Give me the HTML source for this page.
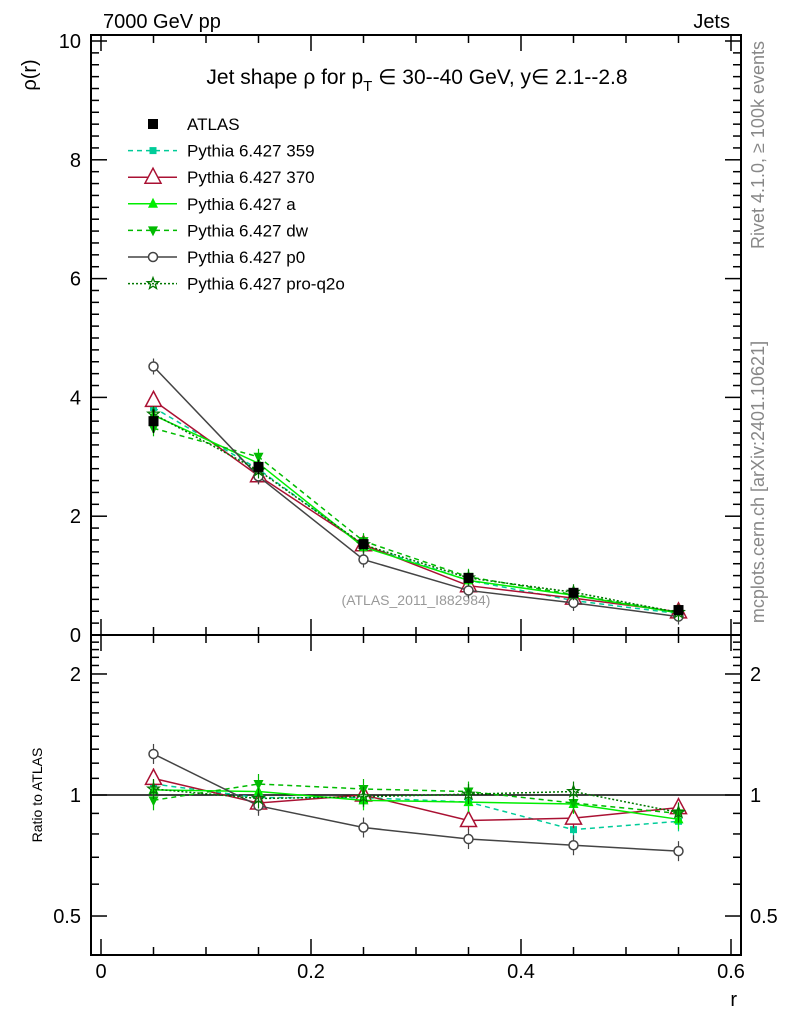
<!DOCTYPE html>
<html><head><meta charset="utf-8"><style>
body{margin:0;background:#fff;}
svg text{font-family:"Liberation Sans",sans-serif;}
</style></head><body>
<svg id="c" width="786" height="1024" xmlns="http://www.w3.org/2000/svg">
<text x="103" y="28" font-size="20">7000 GeV pp</text>
<text x="730" y="28" font-size="20" text-anchor="end">Jets</text>
<text x="0" y="0" font-size="20" transform="translate(36,75) rotate(-90)" text-anchor="middle">ρ(r)</text>
<text x="0" y="0" font-size="14" transform="translate(42,795) rotate(-90)" text-anchor="middle">Ratio to ATLAS</text>
<text x="737" y="1006" font-size="20" text-anchor="end">r</text>
<text x="0" y="0" font-size="18" fill="#888" transform="translate(764,145) rotate(-90)" text-anchor="middle">Rivet 4.1.0, ≥ 100k events</text>
<text x="0" y="0" font-size="18" fill="#888" transform="translate(764,482) rotate(-90)" text-anchor="middle">mcplots.cern.ch [arXiv:2401.10621]</text>
<text x="417" y="84" font-size="21" text-anchor="middle">Jet shape ρ for p<tspan font-size="15" dy="7">T</tspan><tspan dy="-7"> ∈ 30--40 GeV, y∈ 2.1--2.8</tspan></text>
<text x="416" y="605" font-size="14" fill="#999" text-anchor="middle">(ATLAS_2011_I882984)</text>
<g id="g"></g>
</svg>
<script>
const rVals=[0.05,0.15,0.25,0.35,0.45,0.55];
const atlas=[3.6,2.83,1.53,0.96,0.71,0.42];
const atlasErr=[0.2,0.12,0.06,0.04,0.03,0.02];
const s359=[3.83,2.79,1.51,0.92,0.58,0.36];
const s370=[3.95,2.68,1.52,0.83,0.62,0.39];
const sA=[3.70,2.89,1.48,0.92,0.67,0.37];
const sDw=[3.48,3.0,1.58,0.98,0.68,0.38];
const sP0=[4.52,2.67,1.27,0.75,0.54,0.31];
const sQ2o=[3.72,2.77,1.52,0.96,0.72,0.38];
const r359=[1.065,0.985,0.985,0.96,0.82,0.86];
const r370=[1.10,0.955,1.0,0.864,0.876,0.93];
const rA=[1.03,1.02,0.97,0.96,0.95,0.87];
const rDw=[0.97,1.065,1.035,1.02,0.955,0.9];
const rP0=[1.265,0.94,0.83,0.777,0.75,0.725];
const rQ2o=[1.035,0.98,0.99,1.005,1.02,0.905];
const xTicks=[0,0.2,0.4,0.6];
const yTicks=[0,2,4,6,8,10];
const ratioTicks=[0.5,1,2];
const legendNames=["ATLAS","Pythia 6.427 359","Pythia 6.427 370","Pythia 6.427 a","Pythia 6.427 dw","Pythia 6.427 p0","Pythia 6.427 pro-q2o"];

const NS="http://www.w3.org/2000/svg",G=document.getElementById('g');
const X=v=>101+v*1050, Y=v=>635-v*59.4, R=v=>795-Math.log10(v)*402;
function el(t,a,p){const e=document.createElementNS(NS,t);for(const k in a)e.setAttribute(k,a[k]);(p||G).appendChild(e);return e;}
let f=el('rect',{x:91,y:35,width:650,height:600,fill:'none',stroke:'#000','stroke-width':2});


f=el('rect',{x:91,y:635,width:650,height:320,fill:'none',stroke:'#000','stroke-width':2});


for(let i=0;i<=12;i++){const v=i*0.05,x=X(v),L=(i%4==0)?16:8;
 el('line',{x1:x,x2:x,y1:635,y2:635-L,stroke:'#000','stroke-width':1.5});
 el('line',{x1:x,x2:x,y1:35,y2:35+L,stroke:'#000','stroke-width':1.5});
 el('line',{x1:x,x2:x,y1:955,y2:955-L,stroke:'#000','stroke-width':1.5});
 el('line',{x1:x,x2:x,y1:635,y2:635+L,stroke:'#000','stroke-width':1.5});}
xTicks.forEach(v=>{const t=el('text',{x:X(v),y:978,'font-size':20,'text-anchor':'middle'});t.textContent=v;
 
 });
for(let i=0;i<=50;i++){const v=i*0.2,y=Y(v);if(y<36)continue;const L=(i%10==0)?16:8;
 el('line',{x1:91,x2:91+L,y1:y,y2:y,stroke:'#000','stroke-width':1.5});
 el('line',{x1:741,x2:741-L,y1:y,y2:y,stroke:'#000','stroke-width':1.5});}
yTicks.forEach(v=>{const t=el('text',{x:81,y:Y(v)+7,'font-size':20,'text-anchor':'end'});t.textContent=v;
 
 });
for(let i=4;i<=25;i++){const v=i/10;const y=R(v);if(y<636||y>954)continue;const major=(v==0.5||v==1||v==2);const L=major?16:8;
 el('line',{x1:91,x2:91+L,y1:y,y2:y,stroke:'#000','stroke-width':1.5});
 el('line',{x1:741,x2:741-L,y1:y,y2:y,stroke:'#000','stroke-width':1.5});}
ratioTicks.forEach(v=>{let t=el('text',{x:81,y:R(v)+7,'font-size':20,'text-anchor':'end'});t.textContent=v;
 
 
 t=el('text',{x:750,y:R(v)+7,'font-size':20});t.textContent=v;
 
 });
el('line',{x1:91,x2:741,y1:R(1),y2:R(1),stroke:'#000','stroke-width':1.5});

function marker(kind,x,y,c,p){
 if(kind=='sq')el('rect',{x:x-5,y:y-5,width:10,height:10,fill:c},p);
 else if(kind=='ssq')el('rect',{x:x-3.5,y:y-3.5,width:7,height:7,fill:c},p);
 else if(kind=='otri')el('polygon',{points:`${x},${y-9} ${x-8},${y+6} ${x+8},${y+6}`,fill:'#fff',stroke:c,'stroke-width':1.5},p);
 else if(kind=='tri')el('polygon',{points:`${x},${y-6} ${x-5},${y+4} ${x+5},${y+4}`,fill:c},p);
 else if(kind=='dtri')el('polygon',{points:`${x},${y+6} ${x-5},${y-4} ${x+5},${y-4}`,fill:c},p);
 else if(kind=='circ')el('circle',{cx:x,cy:y,r:4.5,fill:'#fff',stroke:c,'stroke-width':1.5},p);
 else if(kind=='star'){let pts=[];for(let k=0;k<10;k++){const a=-Math.PI/2+k*Math.PI/5,rr=k%2?2.5:6;pts.push((x+rr*Math.cos(a))+','+(y+rr*Math.sin(a)));}
  el('polygon',{points:pts.join(' '),fill:'none',stroke:c,'stroke-width':1.3},p);}
}
const series=[
 {name:'pythia-359',m:s359,r:r359,c:'#00cc99',d:'5,4',k:'ssq'},
 {name:'pythia-370',m:s370,r:r370,c:'#aa1133',d:'',k:'otri'},
 {name:'pythia-a',m:sA,r:rA,c:'#00ee00',d:'',k:'tri'},
 {name:'pythia-dw',m:sDw,r:rDw,c:'#00bb00',d:'5,4',k:'dtri'},
 {name:'pythia-p0',m:sP0,r:rP0,c:'#444444',d:'',k:'circ'},
 {name:'pythia-pro-q2o',m:sQ2o,r:rQ2o,c:'#007700',d:'2,2',k:'star'}];
series.forEach(s=>{
 let g=el('g',{});
 el('polyline',{points:rVals.map((v,i)=>X(v)+','+Y(s.m[i])).join(' '),fill:'none',stroke:s.c,'stroke-width':1.5,'stroke-dasharray':s.d},g);
 rVals.forEach((v,i)=>{el('line',{x1:X(v),x2:X(v),y1:Y(s.m[i])-8,y2:Y(s.m[i])+8,stroke:s.c,'stroke-width':1.2},g);marker(s.k,X(v),Y(s.m[i]),s.c,g);});
 g=el('g',{});
 el('polyline',{points:rVals.map((v,i)=>X(v)+','+R(s.r[i])).join(' '),fill:'none',stroke:s.c,'stroke-width':1.5,'stroke-dasharray':s.d},g);
 rVals.forEach((v,i)=>{el('line',{x1:X(v),x2:X(v),y1:R(s.r[i])-10,y2:R(s.r[i])+10,stroke:s.c,'stroke-width':1.2},g);marker(s.k,X(v),R(s.r[i]),s.c,g);});
});
let ga=el('g',{});
rVals.forEach((v,i)=>{el('line',{x1:X(v),x2:X(v),y1:Y(atlas[i]+atlasErr[i]),y2:Y(atlas[i]-atlasErr[i]),stroke:'#000','stroke-width':1.5},ga);marker('sq',X(v),Y(atlas[i]),'#000',ga);});
const lk=['sq','ssq','otri','tri','dtri','circ','star'];
const lc=['#000','#00cc99','#aa1133','#00ee00','#00bb00','#444444','#007700'];
const ld=[null,'5,4','','','5,4','','2,2'];
legendNames.forEach((n,i)=>{const y=124+i*26.6;const g=el('g',{});
 
 
 if(ld[i]!==null)el('line',{x1:128,x2:177,y1:y,y2:y,stroke:lc[i],'stroke-width':1.5,'stroke-dasharray':ld[i]},g);
 marker(lk[i],153,y,lc[i],g);
 const t=el('text',{x:187,y:y+6,'font-size':17},g);t.textContent=n;});
</script>
</body></html>
